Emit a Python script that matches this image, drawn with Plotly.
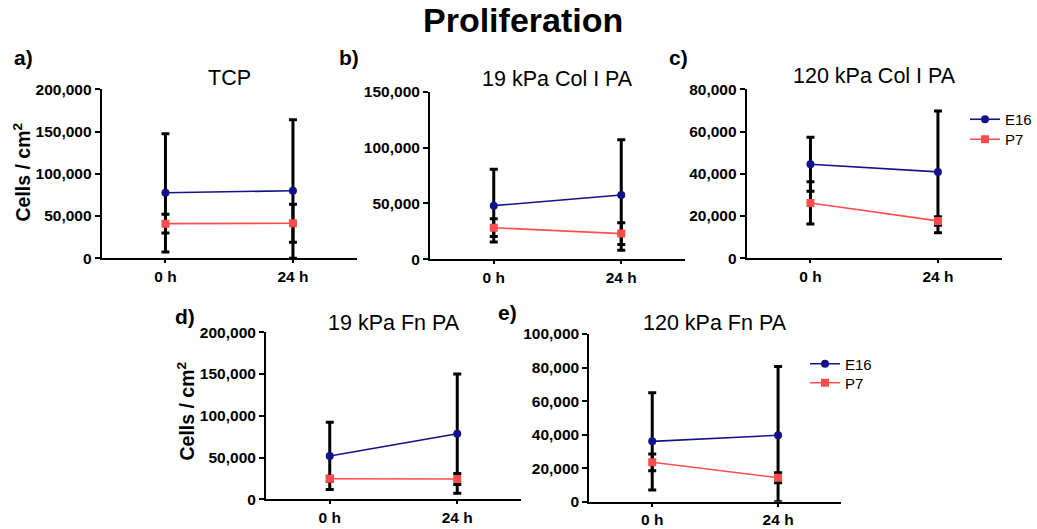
import plotly.graph_objects as go

# ---- data ----
time_labels = ["0 h", "24 h"]
panel_titles = ["TCP", "19 kPa Col I PA", "120 kPa Col I PA", "19 kPa Fn PA", "120 kPa Fn PA"]
panel_letters = ["a)", "b)", "c)", "d)", "e)"]

e16_mean = [[77500, 80000], [48000, 57500], [44500, 40900], [51900, 78600], [36000, 39600]]
e16_sd = [[70000, 84000], [32500, 49500], [12800, 28800], [40300, 71400], [29000, 41000]]
p7_mean = [[41000, 41500], [28300, 23000], [26200, 17700], [24700, 24300], [23500, 14300]]
p7_sd = [[11000, 22500], [8000, 9700], [10000, 2000], [3000, 6500], [5000, 3000]]

y_max = [200000, 150000, 80000, 200000, 100000]
y_dtick = [50000, 50000, 20000, 50000, 20000]

# ---- layout geometry (screen pixels) ----
W, H = 1037, 529
boxes = [  # x0, x1, ytop, ybottom
    (101.7, 356.7, 89.3, 258.3),
    (430.0, 685.0, 91.7, 259.3),
    (746.7, 1001.7, 89.3, 258.3),
    (266.0, 521.0, 332.3, 499.3),
    (589.3, 841.0, 334.0, 501.7),
]
letter_pos = [(23, 57), (349, 57), (678, 57), (185, 316), (507, 312)]
title_y = [78, 79, 76, 323, 323]
# (panel index, series index) -> legend id and position (x left, y centre)
legend_slots = {
    (2, 0): ("legend", 965, 119.5),
    (2, 1): ("legend2", 965, 139.5),
    (4, 0): ("legend3", 805, 364),
    (4, 1): ("legend4", 805, 383),
}


def px(x):
    return x / W


def py(y):
    return 1 - y / H


E16_COLOR = "#12128a"
P7_COLOR = "#ff4d4d"
FONT = "Liberation Sans, Arial, sans-serif"

fig = go.Figure()
layout = {}
annotations = []

for i in range(5):
    x0, x1, yt, yb = boxes[i]
    xa = "xaxis" if i == 0 else f"xaxis{i+1}"
    ya = "yaxis" if i == 0 else f"yaxis{i+1}"
    xr = "x" if i == 0 else f"x{i+1}"
    yr = "y" if i == 0 else f"y{i+1}"
    layout[xa] = dict(
        domain=[px(x0), px(x1)], anchor=yr, type="category", automargin=False,
        range=[-0.5, 1.5], showline=True, linecolor="black", linewidth=2,
        ticks="outside", ticklen=3, tickwidth=2, tickcolor="black",
        showgrid=False, zeroline=False,
        tickfont=dict(family=FONT, size=15.5, color="black", weight="bold"),
    )
    layout[ya] = dict(
        domain=[py(yb), py(yt)], anchor=xr, automargin=False,
        range=[0, y_max[i]], dtick=y_dtick[i], tick0=0, tickformat=",d",
        showline=True, linecolor="black", linewidth=2,
        ticks="outside", ticklen=5, tickwidth=2, tickcolor="black",
        showgrid=False, zeroline=False,
        tickfont=dict(family=FONT, size=15.5, color="black", weight="bold"),
    )
    for j, (name, mean, sd, color, sym) in enumerate([
        ("E16", e16_mean[i], e16_sd[i], E16_COLOR, "circle"),
        ("P7", p7_mean[i], p7_sd[i], P7_COLOR, "square"),
    ]):
        slot = legend_slots.get((i, j))
        minus = [min(s, m) for s, m in zip(sd, mean)]
        fig.add_trace(go.Scatter(
            x=time_labels, y=mean, name=name, mode="lines+markers",
            xaxis=xr, yaxis=yr,
            line=dict(color=color, width=1.6),
            marker=dict(color=color, size=8, symbol=sym),
            error_y=dict(type="data", array=sd, arrayminus=minus, symmetric=False,
                         color="black", thickness=3, width=4),
            showlegend=slot is not None,
            legend=slot[0] if slot else "legend",
        ))
    # subplot title
    annotations.append(dict(
        text=panel_titles[i], x=px((x0 + x1) / 2), y=py(title_y[i]),
        xref="paper", yref="paper", showarrow=False, xanchor="center", yanchor="middle",
        font=dict(family=FONT, size=21.5, color="black"),
    ))
    lx, ly = letter_pos[i]
    annotations.append(dict(
        text=panel_letters[i], x=px(lx), y=py(ly),
        xref="paper", yref="paper", showarrow=False, xanchor="center", yanchor="middle",
        font=dict(family=FONT, size=21, color="black", weight="bold"),
    ))

# y-axis titles
for cx, cy in [(21, 172.5), (185.5, 411)]:
    annotations.append(dict(
        text="Cells / cm<sup>2</sup>", x=px(cx), y=py(cy), textangle=-90,
        xref="paper", yref="paper", showarrow=False, xanchor="center", yanchor="middle",
        font=dict(family=FONT, size=19.5, color="black", weight="bold"),
    ))

# main title
annotations.append(dict(
    text="Proliferation", x=px(523), y=py(20),
    xref="paper", yref="paper", showarrow=False, xanchor="center", yanchor="middle",
    font=dict(family=FONT, size=34, color="black", weight="bold"),
))

legend_style = dict(font=dict(family=FONT, size=15, color="black"),
                    bgcolor="rgba(0,0,0,0)", itemwidth=30,
                    xanchor="left", yanchor="middle")
legends = {}
for (lid, lx, ly) in legend_slots.values():
    legends[lid] = dict(x=px(lx), y=py(ly), **legend_style)

fig.update_layout(
    template="none",
    font=dict(family=FONT, color="black"),
    width=W, height=H, margin=dict(l=0, r=0, t=0, b=0, autoexpand=False),
    paper_bgcolor="white", plot_bgcolor="white",
    annotations=annotations,
    **legends,
    **layout,
)

fig.write_html(
    "out.html",
    config={"displayModeBar": False},
    post_script="document.body.style.margin='0';document.body.style.overflow='hidden';",
)
